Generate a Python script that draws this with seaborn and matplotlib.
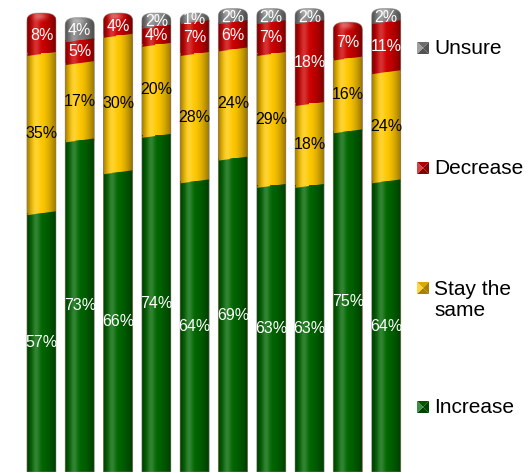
import numpy as np
import pandas as pd
import matplotlib
matplotlib.use("Agg")
import matplotlib.pyplot as plt
import matplotlib.colors as mcolors
from matplotlib.path import Path
from matplotlib.patches import Polygon, PathPatch
import seaborn as sns

# ---- data -------------------------------------------------------------
groups = [f"Q{i}" for i in range(1, 11)]
increase = [57, 73, 66, 74, 64, 69, 63, 63, 75, 64]
stay_same = [35, 17, 30, 20, 28, 24, 29, 18, 16, 24]
decrease = [8, 5, 4, 4, 7, 6, 7, 18, 7, 11]
unsure = [0, 4, 0, 2, 1, 2, 2, 2, 0, 2]

series = ["Increase", "Stay the same", "Decrease", "Unsure"]
colors = ["#006600", "#ffc800", "#cc0000", "#808080"]
text_colors = ["white", "black", "white", "white"]

sns.set_style("white")
plt.rcParams["font.family"] = ["Liberation Sans", "DejaVu Sans"]

W, H, DPI = 531, 473, 100
YMAX = 103.7
fig = plt.figure(figsize=(W / DPI, H / DPI), dpi=DPI)
ax = fig.add_axes([22.3 / W, 1 / H, 383 / W, 471.8 / H])

df = pd.DataFrame({"group": groups, "Increase": increase, "Stay the same": stay_same,
                   "Decrease": decrease, "Unsure": unsure})
cum = df[series].cumsum(axis=1)
cum["group"] = groups

# stacked columns: tallest cumulative layer first, lower layers on top
for name, col in reversed(list(zip(series, colors))):
    sns.barplot(data=cum, x="group", y=name, color=col, saturation=1, width=0.76,
                errorbar=None, linewidth=0, ax=ax, zorder=1)

ax.set_xlim(-0.5, 9.5)
ax.set_ylim(0, YMAX)
ax.axis("off")

ypx = ax.bbox.height / YMAX          # pixels per percentage point

rects = list(ax.patches)

# horizontal cylinder shading profile
N = 80
u = np.linspace(0, 1, N)
dark = 0.38 * np.clip(1 - u / 0.3, 0, 1) ** 1.6 + 0.45 * np.clip((u - 0.45) / 0.55, 0, 1) ** 1.7
light = 0.20 * np.exp(-((u - 0.3) / 0.13) ** 2)
img_dark = np.zeros((1, N, 4)); img_dark[..., 3] = dark
img_light = np.ones((1, N, 4)); img_light[..., 3] = light

for i in range(len(groups)):
    mine = [p for p in rects if abs(p.get_x() + p.get_width() / 2 - i) < 0.4]
    x0 = mine[0].get_x()
    w = mine[0].get_width()
    x1 = x0 + w
    cx = x0 + w / 2
    vals = [increase[i], stay_same[i], decrease[i], unsure[i]]
    tops = np.cumsum(vals)
    total = tops[-1]
    top_k = max(k for k in range(4) if vals[k] > 0)

    # column outline with a rounded top
    dome_base = total - 5 / ypx
    dome_h = 9 / ypx
    t = np.linspace(0, np.pi, 60)
    c, s = np.cos(t), np.sin(t)
    dx = cx + (w / 2) * np.sign(c) * np.abs(c) ** (2 / 3)
    dy = dome_base + dome_h * np.abs(s) ** (2 / 3)
    verts = [(x0, 0), (x1, 0)] + list(zip(dx, dy)) + [(x0, 0)]
    outline = Path(verts, closed=True)

    base = PathPatch(outline, transform=ax.transData, facecolor=colors[top_k],
                     edgecolor="none", zorder=0.9)
    ax.add_patch(base)
    for p in mine:
        p.set_clip_path(outline, ax.transData)

    # slanted boundaries between segments
    xs = np.linspace(x0, x1, 40)
    tilt = 2.0 / ypx
    for k in range(top_k):
        v = tops[k]
        upper = colors[k + 1] if vals[k + 1] > 0 else colors[top_k]
        curve = v + tilt * (2 * (xs - x0) / w - 1)
        f1 = ax.fill_between(xs, v, curve, where=curve <= v, color=upper,
                             interpolate=True, lw=0, zorder=2)
        f2 = ax.fill_between(xs, v, curve, where=curve >= v, color=colors[k],
                             interpolate=True, lw=0, zorder=2)
        f1.set_clip_path(outline, ax.transData)
        f2.set_clip_path(outline, ax.transData)

    ext = (x0, x1, 0, total + 6 / ypx)
    im1 = ax.imshow(img_dark, extent=ext, aspect="auto", interpolation="bilinear", zorder=3)
    im1.set_clip_path(outline, ax.transData)
    im2 = ax.imshow(img_light, extent=ext, aspect="auto", interpolation="bilinear", zorder=3.1)
    im2.set_clip_path(outline, ax.transData)

    # soft glint on the rounded top
    gy = np.linspace(total - 14 / ypx, total + 6 / ypx, 40)
    gx = np.linspace(x0, x1, 40)
    GX, GY = np.meshgrid(gx, gy)
    g = np.exp(-(((GX - (cx - 0.05 * w)) / (0.22 * w)) ** 2) - (((GY - (total + 1 / ypx)) / (4 / ypx)) ** 2))
    glint = np.ones((40, 40, 4)); glint[..., 3] = 0.35 * g
    im3 = ax.imshow(glint, extent=(x0, x1, gy[0], gy[-1]), origin="lower", aspect="auto",
                    interpolation="bilinear", zorder=3.2)
    im3.set_clip_path(outline, ax.transData)

    edge = PathPatch(outline, transform=ax.transData, facecolor="none",
                     edgecolor=(0.55, 0.55, 0.55, 0.5), lw=0.7, zorder=3.5)
    ax.add_patch(edge)

    # value labels at segment centres
    for k in range(4):
        if vals[k] <= 0:
            continue
        ax.text(cx, tops[k] - vals[k] / 2, f"{vals[k]}%", ha="center", va="center",
                color=text_colors[k], fontsize=11.5, zorder=5)

ax.set_xlim(-0.5, 9.5)
ax.set_ylim(0, YMAX)

# ---- legend ------------------------------------------------------------
def fx(px):
    return px / W

def fy(py):
    return 1 - py / H

def bevel_marker(cxp, cyp, color, size=12):
    h = size / 2
    base = np.array(mcolors.to_rgb(color))
    lighter = base + (1 - base) * 0.25
    darker = base * 0.65
    mid = base * 0.85
    corners = {"tl": (cxp - h, cyp - h), "tr": (cxp + h, cyp - h),
               "br": (cxp + h, cyp + h), "bl": (cxp - h, cyp + h)}
    ctr = (cxp, cyp)
    faces = [(("tl", "tr"), mid), (("tr", "br"), darker),
             (("br", "bl"), darker), (("bl", "tl"), lighter)]
    for (a, b), col in faces:
        pts = [corners[a], corners[b], ctr]
        fig.add_artist(Polygon([(fx(x), fy(y)) for x, y in pts], closed=True,
                               facecolor=col, edgecolor="none",
                               transform=fig.transFigure))

legend_rows = [("Unsure", colors[3], 48, 48),
               ("Decrease", colors[2], 168, 168),
               ("Stay the\nsame", colors[1], 288, 300),
               ("Increase", colors[0], 407, 407)]
for label, col, my, ty in legend_rows:
    bevel_marker(423, my, col)
    fig.text(fx(434), fy(ty), label, ha="left", va="center", fontsize=15,
             color="black", linespacing=1.1)

fig.savefig("out.png", dpi=DPI)
